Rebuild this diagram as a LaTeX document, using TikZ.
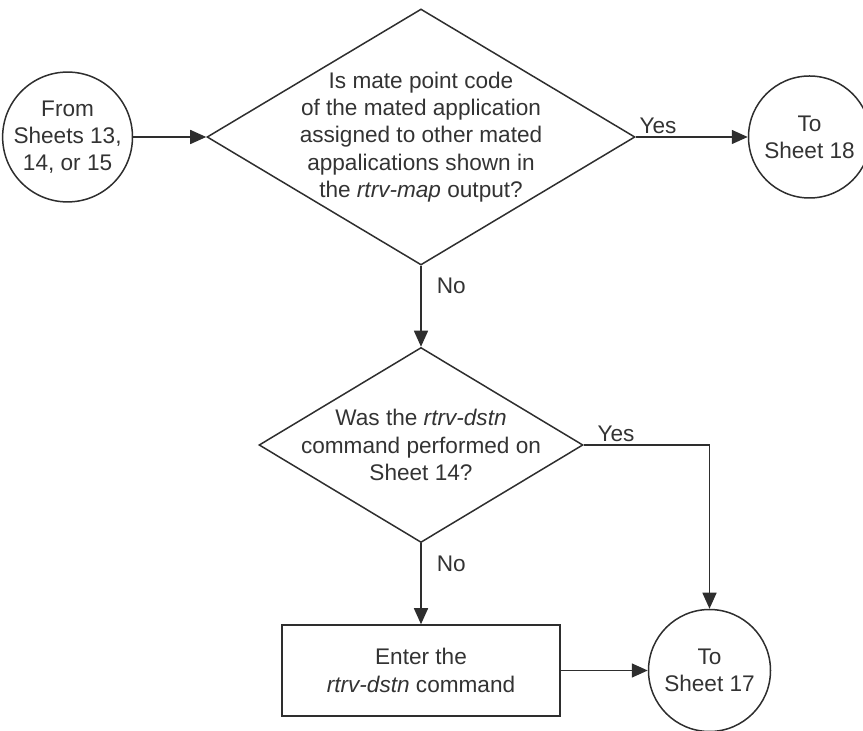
\documentclass[tikz,border=0pt]{standalone}
\usepackage{fontspec}
\setmainfont{Liberation Sans}
\usetikzlibrary{positioning, arrows.meta, shapes.geometric}
\definecolor{LineC}{HTML}{2E2E2E}
\definecolor{TextC}{HTML}{333333}
\tikzset{
  fnt/.style={font=\fontsize{11.3}{13.6}\selectfont, text=TextC},
  base/.style={draw=LineC, line width=0.75pt, fnt, align=center},
  decision/.style={base, diamond, inner sep=0pt},
  conn/.style={base, circle, minimum size=61pt, inner sep=0pt},
  proc/.style={base, rectangle, minimum width=139pt, minimum height=45.5pt, inner sep=2pt},
  txt/.style={fnt, align=center, inner sep=0pt},
  lbl/.style={fnt, inner sep=1.5pt},
  arr/.style={-{Triangle[length=8pt, width=7pt]}, line width=0.75pt, draw=LineC}
}

\begin{document}
\begin{tikzpicture}[x=0.5pt, y=-0.5pt]
  \useasboundingbox (0,0) rectangle (863,731);

  \node[decision, minimum width=214pt, minimum height=128pt] (d1) at (421,137) {};
  \node[txt] (d1t) at (d1.center) {Is mate point code\\of the mated application\\assigned to other mated\\appalications shown in\\the \textit{rtrv-map} output?};

  \node[conn, left=36.5pt of d1] (from) {From\\Sheets 13,\\14, or 15};
  \node[conn, right=56pt of d1] (to18) {To\\Sheet 18};

  \node[decision, below=40.5pt of d1, minimum width=162pt, minimum height=97.5pt] (d2) {};
  \node[txt] (d2t) at (d2.center) {Was the \textit{rtrv-dstn}\\command performed on\\Sheet 14?};

  \node[proc, below=40.5pt of d2] (enter) {Enter the\\\textit{rtrv-dstn} command};
  \node[conn, right=43.5pt of enter] (to17) {To\\Sheet 17};

  \draw[arr] (from) -- (d1);
  \draw[arr] (d1) -- node[lbl, above right, pos=0] {Yes} (to18);
  \draw[arr] (d1) -- node[lbl, right=6pt, pos=0.25] {No} (d2);
  \draw[arr] (d2.east) -| node[lbl, above right, pos=0, xshift=5pt] {Yes} (to17);
  \draw[arr] (d2) -- node[lbl, right=6pt, pos=0.25] {No} (enter);
  \draw[arr] (enter) -- (to17);
\end{tikzpicture}
\end{document}
